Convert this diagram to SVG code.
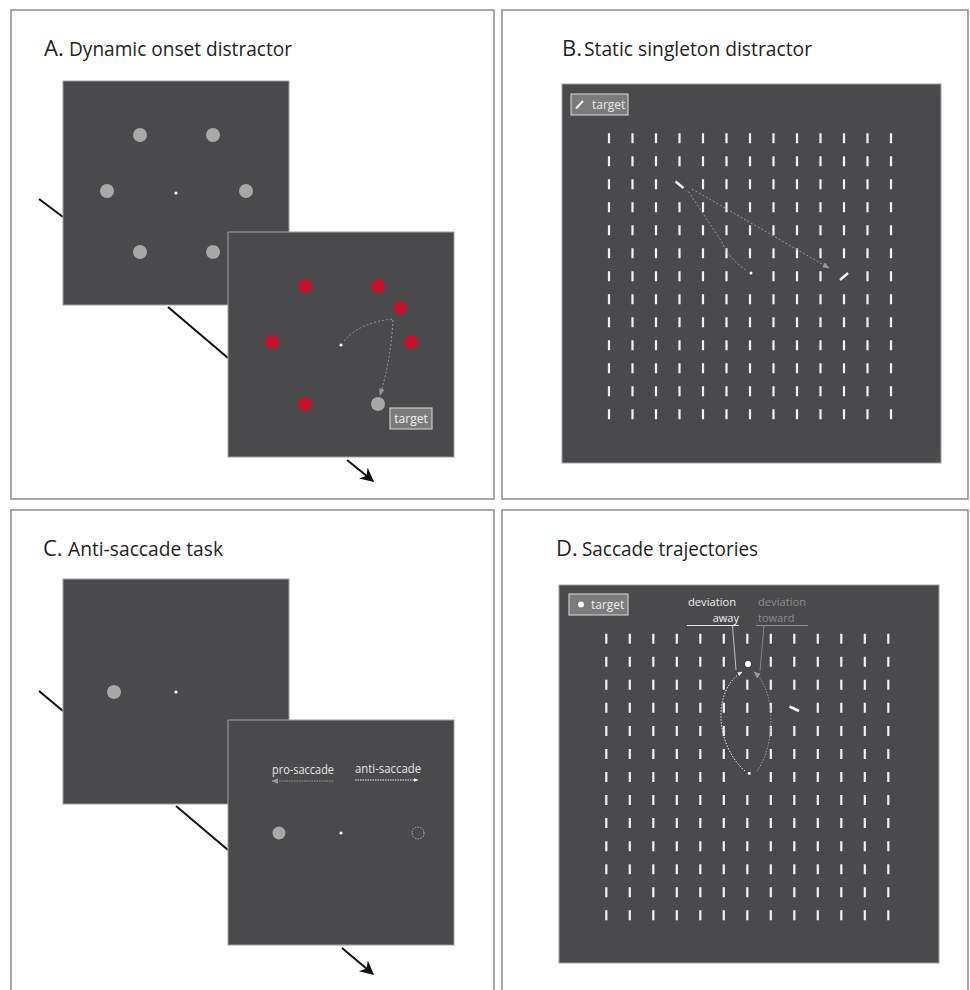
<svg xmlns="http://www.w3.org/2000/svg" width="970" height="990" viewBox="0 0 970 990">
<defs>
<style>
.frame{fill:none;stroke:#8c8c8c;stroke-width:1.5}
.screen{fill:#4a4a4c;stroke:#a0a0a0;stroke-width:1}
.title{font-family:"Open Sans","Noto Sans",sans-serif;fill:#231f20}
.lbl{font-family:"Open Sans","Noto Sans",sans-serif;font-size:12px}
.dlbl{font-family:"Open Sans","Noto Sans",sans-serif;font-size:11px}
.bars{fill:none;stroke:#f2f2f2;stroke-width:2.2}
.gdot{fill:#a8a8a8}
.rdot{fill:#c4112b}
.fix{fill:#ffffff}
.link{stroke:#111;stroke-width:2;fill:none}
.legend{fill:#7b7b7b;stroke:#c8c8c8;stroke-width:1.2}
.traj{fill:none;stroke:#9a9a9a;stroke-width:1;stroke-dasharray:2 2}
</style>
<marker id="blk" viewBox="0 0 10 10" refX="9" refY="5" markerWidth="7" markerHeight="7" orient="auto" markerUnits="strokeWidth"><path d="M0,0 L10,5 L0,10 L3,5 z" fill="#111"/></marker>
<marker id="gar" viewBox="0 0 10 10" refX="9" refY="5" markerWidth="7" markerHeight="7" orient="auto" markerUnits="strokeWidth"><path d="M0,1 L10,5 L0,9 z" fill="#9a9a9a"/></marker>
<marker id="war" viewBox="0 0 10 10" refX="9" refY="5" markerWidth="5" markerHeight="5" orient="auto" markerUnits="strokeWidth"><path d="M0,1 L10,5 L0,9 z" fill="#eeeeee"/></marker>
</defs>
<rect width="970" height="990" fill="#ffffff"/>

<g id="panelA">
<rect class="frame" x="11" y="10" width="483" height="489"/>
<text class="title" x="44" y="56" font-size="22">A.</text>
<text class="title" x="69" y="56" font-size="20" textLength="223" lengthAdjust="spacingAndGlyphs">Dynamic onset distractor</text>
</g>

<g id="connectorsA">
<line class="link" x1="39" y1="199" x2="63" y2="217"/>
<line class="link" x1="168" y1="307" x2="228" y2="358"/>
<line class="link" x1="347" y1="460" x2="373" y2="481" marker-end="url(#blk)"/>
</g>

<g id="screenA1">
<rect class="screen" x="63" y="81" width="226" height="224"/>
<circle class="gdot" cx="140" cy="135" r="7"/>
<circle class="gdot" cx="213" cy="135" r="7"/>
<circle class="gdot" cx="107" cy="191" r="7"/>
<circle class="gdot" cx="246" cy="191" r="7"/>
<circle class="gdot" cx="140" cy="252" r="7"/>
<circle class="gdot" cx="213" cy="252" r="7"/>
<circle class="fix" cx="176" cy="193" r="1.6"/>
</g>

<g id="screenA2">
<rect class="screen" x="228" y="232" width="226" height="225"/>
<circle class="rdot" cx="305" cy="286" r="7"/>
<circle class="rdot" cx="378" cy="286" r="7"/>
<circle class="rdot" cx="400" cy="308" r="7"/>
<circle class="rdot" cx="272" cy="342" r="7"/>
<circle class="rdot" cx="411" cy="342" r="7"/>
<circle class="rdot" cx="305" cy="404" r="7"/>
<circle class="gdot" cx="378" cy="404" r="7"/>
<circle class="fix" cx="341" cy="345" r="1.6"/>
<path class="traj" d="M344,341 Q360,322 393,319 Q391,360 380,395" marker-end="url(#gar)"/>
<rect class="legend" x="390" y="408" width="42" height="21"/>
<text class="lbl" x="411" y="423" text-anchor="middle" fill="#f2f2f2">target</text>
</g>

<g id="panelB">
<rect class="frame" x="502" y="10" width="466" height="489"/>
<text class="title" x="562" y="56" font-size="22">B.</text>
<text class="title" x="584" y="56" font-size="20" textLength="228" lengthAdjust="spacingAndGlyphs">Static singleton distractor</text>
</g>

<g id="screenB">
<rect class="screen" x="562" y="84" width="379" height="379" stroke="none"/>
<rect class="legend" x="571" y="94" width="57" height="21"/>
<line x1="576" y1="108.5" x2="583" y2="101" stroke="#f2f2f2" stroke-width="2"/>
<text class="lbl" x="592" y="109" fill="#eeeeee">target</text>
<path class="bars" d="
M609,133.3v10m23.5,-10v10m23.5,-10v10m23.5,-10v10m23.5,-10v10m23.5,-10v10m23.5,-10v10m23.5,-10v10m23.5,-10v10m23.5,-10v10m23.5,-10v10m23.5,-10v10m23.5,-10v10
M609,156.3v10m23.5,-10v10m23.5,-10v10m23.5,-10v10m23.5,-10v10m23.5,-10v10m23.5,-10v10m23.5,-10v10m23.5,-10v10m23.5,-10v10m23.5,-10v10m23.5,-10v10m23.5,-10v10
M609,179.3v10m23.5,-10v10m23.5,-10v10m47,-10v10m23.5,-10v10m23.5,-10v10m23.5,-10v10m23.5,-10v10m23.5,-10v10m23.5,-10v10m23.5,-10v10m23.5,-10v10
M609,202.3v10m23.5,-10v10m23.5,-10v10m23.5,-10v10m23.5,-10v10m23.5,-10v10m23.5,-10v10m23.5,-10v10m23.5,-10v10m23.5,-10v10m23.5,-10v10m23.5,-10v10m23.5,-10v10
M609,225.3v10m23.5,-10v10m23.5,-10v10m23.5,-10v10m23.5,-10v10m23.5,-10v10m23.5,-10v10m23.5,-10v10m23.5,-10v10m23.5,-10v10m23.5,-10v10m23.5,-10v10m23.5,-10v10
M609,248.3v10m23.5,-10v10m23.5,-10v10m23.5,-10v10m23.5,-10v10m23.5,-10v10m23.5,-10v10m23.5,-10v10m23.5,-10v10m23.5,-10v10m23.5,-10v10m23.5,-10v10m23.5,-10v10
M609,271.3v10m23.5,-10v10m23.5,-10v10m23.5,-10v10m23.5,-10v10m23.5,-10v10m47,-10v10m23.5,-10v10m23.5,-10v10m47,-10v10m23.5,-10v10
M609,294.3v10m23.5,-10v10m23.5,-10v10m23.5,-10v10m23.5,-10v10m23.5,-10v10m23.5,-10v10m23.5,-10v10m23.5,-10v10m23.5,-10v10m23.5,-10v10m23.5,-10v10m23.5,-10v10
M609,317.3v10m23.5,-10v10m23.5,-10v10m23.5,-10v10m23.5,-10v10m23.5,-10v10m23.5,-10v10m23.5,-10v10m23.5,-10v10m23.5,-10v10m23.5,-10v10m23.5,-10v10m23.5,-10v10
M609,340.3v10m23.5,-10v10m23.5,-10v10m23.5,-10v10m23.5,-10v10m23.5,-10v10m23.5,-10v10m23.5,-10v10m23.5,-10v10m23.5,-10v10m23.5,-10v10m23.5,-10v10m23.5,-10v10
M609,363.3v10m23.5,-10v10m23.5,-10v10m23.5,-10v10m23.5,-10v10m23.5,-10v10m23.5,-10v10m23.5,-10v10m23.5,-10v10m23.5,-10v10m23.5,-10v10m23.5,-10v10m23.5,-10v10
M609,386.3v10m23.5,-10v10m23.5,-10v10m23.5,-10v10m23.5,-10v10m23.5,-10v10m23.5,-10v10m23.5,-10v10m23.5,-10v10m23.5,-10v10m23.5,-10v10m23.5,-10v10m23.5,-10v10
M609,409.3v10m23.5,-10v10m23.5,-10v10m23.5,-10v10m23.5,-10v10m23.5,-10v10m23.5,-10v10m23.5,-10v10m23.5,-10v10m23.5,-10v10m23.5,-10v10m23.5,-10v10m23.5,-10v10"/>
<line x1="675.5" y1="181.5" x2="683.5" y2="188" stroke="#f2f2f2" stroke-width="2.5"/>
<line x1="840" y1="280" x2="848" y2="273" stroke="#f2f2f2" stroke-width="2.5"/>
<circle class="fix" cx="751" cy="273" r="1.5"/>
<path class="traj" d="M746,270 Q728,258 722,242 L688,191"/>
<path class="traj" d="M692,189 L829,268" marker-end="url(#gar)"/>
</g>

<g id="panelC">
<rect class="frame" x="11" y="510" width="483" height="485"/>
<text class="title" x="43" y="556" font-size="22">C.</text>
<text class="title" x="68" y="556" font-size="20" textLength="155" lengthAdjust="spacingAndGlyphs">Anti-saccade task</text>
</g>

<g id="connectorsC">
<line class="link" x1="39" y1="691" x2="63" y2="711"/>
<line class="link" x1="176" y1="806" x2="228" y2="850"/>
<line class="link" x1="342" y1="948" x2="373" y2="974" marker-end="url(#blk)"/>
</g>

<g id="screenC1">
<rect class="screen" x="63" y="579" width="226" height="225"/>
<circle class="gdot" cx="114" cy="692" r="7"/>
<circle class="fix" cx="176" cy="692" r="1.6"/>
</g>

<g id="screenC2">
<rect class="screen" x="228" y="720" width="226" height="225"/>
<text class="lbl" x="272" y="774" fill="#e6e6e6" textLength="62" lengthAdjust="spacingAndGlyphs">pro-saccade</text>
<text class="lbl" x="355" y="773" fill="#e6e6e6" textLength="66" lengthAdjust="spacingAndGlyphs">anti-saccade</text>
<line x1="333" y1="781" x2="272" y2="781" stroke="#9a9a9a" stroke-width="1" stroke-dasharray="1.5 1" marker-end="url(#gar)"/>
<line x1="355" y1="780" x2="418" y2="780" stroke="#eeeeee" stroke-width="1" stroke-dasharray="1.5 1" marker-end="url(#war)"/>
<circle class="gdot" cx="279" cy="833" r="6.5"/>
<circle class="fix" cx="341" cy="833" r="1.6"/>
<circle cx="418" cy="833" r="6" fill="none" stroke="#bdbdbd" stroke-width="0.9" stroke-dasharray="1.5 1.2"/>
</g>

<g id="panelD">
<rect class="frame" x="502" y="510" width="466" height="485"/>
<text class="title" x="556" y="556" font-size="22">D.</text>
<text class="title" x="582" y="556" font-size="20" textLength="176" lengthAdjust="spacingAndGlyphs">Saccade trajectories</text>
</g>

<g id="screenD">
<rect class="screen" x="559" y="585" width="380" height="378" stroke="none"/>
<rect class="legend" x="569" y="594" width="59" height="21"/>
<circle cx="581" cy="604.5" r="3" fill="#ffffff"/>
<text class="lbl" x="591" y="609" fill="#eeeeee">target</text>
<path class="bars" d="
M606.3,633.7v10m23.5,-10v10m23.5,-10v10m23.5,-10v10m23.5,-10v10m23.5,-10v10m23.5,-10v10m23.5,-10v10m23.5,-10v10m23.5,-10v10m23.5,-10v10m23.5,-10v10m23.5,-10v10
M606.3,656.75v10m23.5,-10v10m23.5,-10v10m23.5,-10v10m23.5,-10v10m23.5,-10v10m47,-10v10m23.5,-10v10m23.5,-10v10m23.5,-10v10m23.5,-10v10m23.5,-10v10
M606.3,679.8v10m23.5,-10v10m23.5,-10v10m23.5,-10v10m23.5,-10v10m23.5,-10v10m23.5,-10v10m23.5,-10v10m23.5,-10v10m23.5,-10v10m23.5,-10v10m23.5,-10v10m23.5,-10v10
M606.3,702.85v10m23.5,-10v10m23.5,-10v10m23.5,-10v10m23.5,-10v10m23.5,-10v10m23.5,-10v10m23.5,-10v10m47,-10v10m23.5,-10v10m23.5,-10v10m23.5,-10v10
M606.3,725.9v10m23.5,-10v10m23.5,-10v10m23.5,-10v10m23.5,-10v10m23.5,-10v10m23.5,-10v10m23.5,-10v10m23.5,-10v10m23.5,-10v10m23.5,-10v10m23.5,-10v10m23.5,-10v10
M606.3,748.95v10m23.5,-10v10m23.5,-10v10m23.5,-10v10m23.5,-10v10m23.5,-10v10m23.5,-10v10m23.5,-10v10m23.5,-10v10m23.5,-10v10m23.5,-10v10m23.5,-10v10m23.5,-10v10
M606.3,772v10m23.5,-10v10m23.5,-10v10m23.5,-10v10m23.5,-10v10m23.5,-10v10m47,-10v10m23.5,-10v10m23.5,-10v10m23.5,-10v10m23.5,-10v10m23.5,-10v10
M606.3,795.05v10m23.5,-10v10m23.5,-10v10m23.5,-10v10m23.5,-10v10m23.5,-10v10m23.5,-10v10m23.5,-10v10m23.5,-10v10m23.5,-10v10m23.5,-10v10m23.5,-10v10m23.5,-10v10
M606.3,818.1v10m23.5,-10v10m23.5,-10v10m23.5,-10v10m23.5,-10v10m23.5,-10v10m23.5,-10v10m23.5,-10v10m23.5,-10v10m23.5,-10v10m23.5,-10v10m23.5,-10v10m23.5,-10v10
M606.3,841.15v10m23.5,-10v10m23.5,-10v10m23.5,-10v10m23.5,-10v10m23.5,-10v10m23.5,-10v10m23.5,-10v10m23.5,-10v10m23.5,-10v10m23.5,-10v10m23.5,-10v10m23.5,-10v10
M606.3,864.2v10m23.5,-10v10m23.5,-10v10m23.5,-10v10m23.5,-10v10m23.5,-10v10m23.5,-10v10m23.5,-10v10m23.5,-10v10m23.5,-10v10m23.5,-10v10m23.5,-10v10m23.5,-10v10
M606.3,887.25v10m23.5,-10v10m23.5,-10v10m23.5,-10v10m23.5,-10v10m23.5,-10v10m23.5,-10v10m23.5,-10v10m23.5,-10v10m23.5,-10v10m23.5,-10v10m23.5,-10v10m23.5,-10v10
M606.3,910.3v10m23.5,-10v10m23.5,-10v10m23.5,-10v10m23.5,-10v10m23.5,-10v10m23.5,-10v10m23.5,-10v10m23.5,-10v10m23.5,-10v10m23.5,-10v10m23.5,-10v10m23.5,-10v10"/>
<circle cx="748" cy="664" r="3" fill="#ffffff"/>
<line x1="789.5" y1="706.5" x2="799" y2="711" stroke="#f2f2f2" stroke-width="2.5"/>
<circle class="fix" cx="749.3" cy="773.3" r="1.5"/>
<path d="M745,771 C715,745 712,690 742,672" fill="none" stroke="#eeeeee" stroke-width="1" stroke-dasharray="1.5 1.5" marker-end="url(#war)"/>
<path d="M757,771 C776,745 776,690 754,672" fill="none" stroke="#9a9a9a" stroke-width="1" stroke-dasharray="1.5 1.5" marker-end="url(#gar)"/>
<text class="dlbl" x="688" y="606" fill="#f0f0f0" textLength="48" lengthAdjust="spacingAndGlyphs">deviation</text>
<text class="dlbl" x="739" y="622" fill="#f0f0f0" text-anchor="end">away</text>
<line x1="687" y1="625.5" x2="739" y2="625.5" stroke="#e6e6e6" stroke-width="1.2"/>
<line x1="732.5" y1="625.5" x2="736" y2="670" stroke="#cfcfcf" stroke-width="0.9"/>
<text class="dlbl" x="758" y="606" fill="#8e8e8e" textLength="48" lengthAdjust="spacingAndGlyphs">deviation</text>
<text class="dlbl" x="758" y="622" fill="#8e8e8e">toward</text>
<line x1="756" y1="625.5" x2="808" y2="625.5" stroke="#8e8e8e" stroke-width="1.2"/>
<line x1="764" y1="625.5" x2="760" y2="671" stroke="#8e8e8e" stroke-width="0.9"/>
</g>
</svg>
